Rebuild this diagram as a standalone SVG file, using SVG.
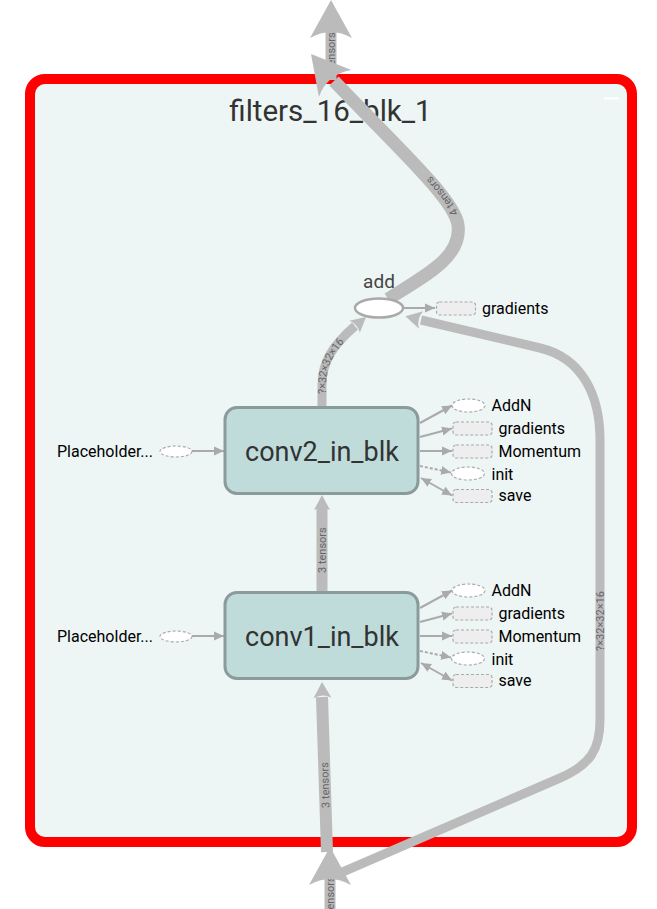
<svg xmlns="http://www.w3.org/2000/svg" width="657" height="909" viewBox="0 0 657 909">
<defs>
<style>
.edge{fill:none;stroke:#bbb;}
.ah{fill:#bbb;}
.lbl{font-family:Roboto,"Liberation Sans",sans-serif;font-size:11px;fill:#666;}
.side{fill:none;stroke:#aaa;stroke-width:2;}
.dl{stroke-dasharray:3,2;}
.dash{stroke:#aaa;stroke-width:1.2;stroke-dasharray:3,2;}
.rn{fill:#eee;}
.en{fill:#fff;}
.txt{font-family:Roboto,"Liberation Sans",sans-serif;font-size:16px;fill:#000;}
.meta{fill:#bfdcdb;stroke:#899b9a;stroke-width:3;}
.metal{font-family:Roboto,"Liberation Sans",sans-serif;font-size:27px;fill:#333;text-anchor:middle;}
</style>
<marker id="sa" viewBox="0 0 10 10" refX="10" refY="5" markerWidth="10" markerHeight="10" markerUnits="userSpaceOnUse" orient="auto-start-reverse"><path d="M0,0.5 L10,5 L0,9.5 z" fill="#aaa"/></marker>
<path id="bigAh" d="M0,0 L-38,-21 Q-26,0 -38,21 Z"/>
<path id="medAh" d="M0,0 L-16,-9 Q-11,0 -16,9 Z"/>
<path id="smAh" d="M0,0 L-15,-8 Q-11,0 -15,8 Z"/>
<path id="p4t" d="M 388,299 C 432,272 462,255 458,225 C 455,200 400,150 334,81"/>
<path id="pc2a" d="M 322,406 L 322,385 C 322,362 333,345 355,326"/>
<path id="pb1" d="M 327,852 L 322,697"/>
</defs>

<g id="filters_16_blk_1">
<rect x="30" y="79" width="602" height="763" rx="15" fill="#edf5f5" stroke="#f00" stroke-width="10"/>
<rect x="604" y="97.5" width="15" height="2" fill="#fff"/>
<text x="330.5" y="121" font-family="Roboto,'Liberation Sans',sans-serif" font-size="29.5" fill="#333" text-anchor="middle">filters_16_blk_1</text>
</g>

<g id="connectors">
<line class="edge" x1="331" y1="80" x2="331" y2="30" stroke-width="11"/>
<text class="lbl" transform="translate(331,78) rotate(-90)" dy="4">4 tensors</text>
<use href="#bigAh" class="ah" transform="translate(331,0) rotate(-90)"/>
<use href="#p4t" class="edge" stroke-width="13"/>
<text class="lbl" dy="4"><textPath href="#p4t" startOffset="118">4 tensors</textPath></text>
<use href="#bigAh" class="ah" transform="translate(311,54) rotate(-129.4)"/>
<line class="edge" x1="330" y1="909" x2="330" y2="870" stroke-width="11"/>
<text class="lbl" transform="translate(330,922) rotate(-90)" dy="4">4 tensors</text>
<path class="edge" stroke-width="9" d="M 338,874 L 560,778 C 590,765 600,750 600,720 L 600,440 C 600,395 582,358 540,348 L 421,320"/>
<text class="lbl" transform="translate(600,651) rotate(-90)" dy="4">?×32×32×16</text>
<use href="#medAh" class="ah" transform="translate(405.5,316.3) rotate(-166.8)"/>
<use href="#bigAh" class="ah" transform="translate(330,847) rotate(-90)"/>
<use href="#pb1" class="edge" stroke-width="12"/>
<text class="lbl" dy="4"><textPath href="#pb1" startOffset="44">3 tensors</textPath></text>
<use href="#medAh" class="ah" transform="translate(322,682) rotate(-91.8)"/>
<line class="edge" x1="322" y1="594" x2="322" y2="508" stroke-width="11"/>
<text class="lbl" transform="translate(322,573) rotate(-90)" dy="4">3 tensors</text>
<use href="#smAh" class="ah" transform="translate(322,495) rotate(-90)"/>
<use href="#pc2a" class="edge" stroke-width="9"/>
<text class="lbl" dy="4"><textPath href="#pc2a" startOffset="12">?×32×32×16</textPath></text>
<use href="#smAh" class="ah" transform="translate(366,317) rotate(-40.8)"/>
<line class="side" x1="403" y1="308" x2="435" y2="308" marker-end="url(#sa)"/>
<line class="side" x1="192" y1="451" x2="224" y2="451" marker-end="url(#sa)"/>
<line class="side" x1="192" y1="636" x2="224" y2="636" marker-end="url(#sa)"/>
<g id="conv2_side_edges">
<line class="side" x1="420" y1="423" x2="452" y2="405.5" marker-end="url(#sa)"/>
<line class="side" x1="420" y1="437" x2="452" y2="428.5" marker-end="url(#sa)"/>
<line class="side" x1="420" y1="451" x2="452" y2="451" marker-end="url(#sa)"/>
<line class="side dl" x1="420" y1="466" x2="451" y2="472.5" marker-end="url(#sa)"/>
<line class="side" x1="421" y1="478" x2="452" y2="495.5" marker-start="url(#sa)" marker-end="url(#sa)"/>
</g>
<g id="conv1_side_edges" transform="translate(0,185)">
<line class="side" x1="420" y1="423" x2="452" y2="405.5" marker-end="url(#sa)"/>
<line class="side" x1="420" y1="437" x2="452" y2="428.5" marker-end="url(#sa)"/>
<line class="side" x1="420" y1="451" x2="452" y2="451" marker-end="url(#sa)"/>
<line class="side dl" x1="420" y1="466" x2="451" y2="472.5" marker-end="url(#sa)"/>
<line class="side" x1="421" y1="478" x2="452" y2="495.5" marker-start="url(#sa)" marker-end="url(#sa)"/>
</g>
</g>

<g id="add">
<ellipse cx="379" cy="308" rx="24" ry="9.5" fill="#fff" stroke="#aaa" stroke-width="2.5"/>
<text x="379" y="288" font-family="Roboto,'Liberation Sans',sans-serif" font-size="19" fill="#444" text-anchor="middle">add</text>
</g>
<g id="add_gradients">
<rect class="rn dash" x="436.5" y="302" width="39" height="13" rx="3"/>
<text class="txt" x="482" y="314">gradients</text>
</g>

<g id="conv2_in_blk">
<rect class="meta" x="225" y="407.5" width="193" height="86" rx="12"/>
<text class="metal" x="322" y="461">conv2_in_blk</text>
</g>
<g id="conv1_in_blk">
<rect class="meta" x="225" y="592.5" width="193" height="86" rx="12"/>
<text class="metal" x="322" y="646">conv1_in_blk</text>
</g>

<g id="conv2_placeholder">
<ellipse class="en dash" cx="176" cy="451.5" rx="16" ry="5.5"/>
<text class="txt" x="57" y="457">Placeholder...</text>
</g>
<g id="conv1_placeholder">
<ellipse class="en dash" cx="176" cy="636.5" rx="16" ry="5.5"/>
<text class="txt" x="57" y="642">Placeholder...</text>
</g>

<g id="conv2_AddN"><ellipse class="en dash" cx="468.5" cy="405.5" rx="16.5" ry="6.5"/><text class="txt" x="491.5" y="411">AddN</text></g>
<g id="conv2_gradients"><rect class="rn dash" x="453" y="422" width="39" height="13" rx="3"/><text class="txt" x="498.5" y="434">gradients</text></g>
<g id="conv2_Momentum"><rect class="rn dash" x="453" y="445" width="39" height="13" rx="3"/><text class="txt" x="498.5" y="457">Momentum</text></g>
<g id="conv2_init"><ellipse class="en dash" cx="468" cy="473.5" rx="16.5" ry="6.5"/><text class="txt" x="491.5" y="479.5">init</text></g>
<g id="conv2_save"><rect class="rn dash" x="453" y="489.5" width="39" height="13" rx="3"/><text class="txt" x="498.5" y="501">save</text></g>

<g id="conv1_AddN"><ellipse class="en dash" cx="468.5" cy="590.5" rx="16.5" ry="6.5"/><text class="txt" x="491.5" y="596">AddN</text></g>
<g id="conv1_gradients"><rect class="rn dash" x="453" y="607" width="39" height="13" rx="3"/><text class="txt" x="498.5" y="619">gradients</text></g>
<g id="conv1_Momentum"><rect class="rn dash" x="453" y="630" width="39" height="13" rx="3"/><text class="txt" x="498.5" y="642">Momentum</text></g>
<g id="conv1_init"><ellipse class="en dash" cx="468" cy="658.5" rx="16.5" ry="6.5"/><text class="txt" x="491.5" y="664.5">init</text></g>
<g id="conv1_save"><rect class="rn dash" x="453" y="674.5" width="39" height="13" rx="3"/><text class="txt" x="498.5" y="686">save</text></g>
</svg>
